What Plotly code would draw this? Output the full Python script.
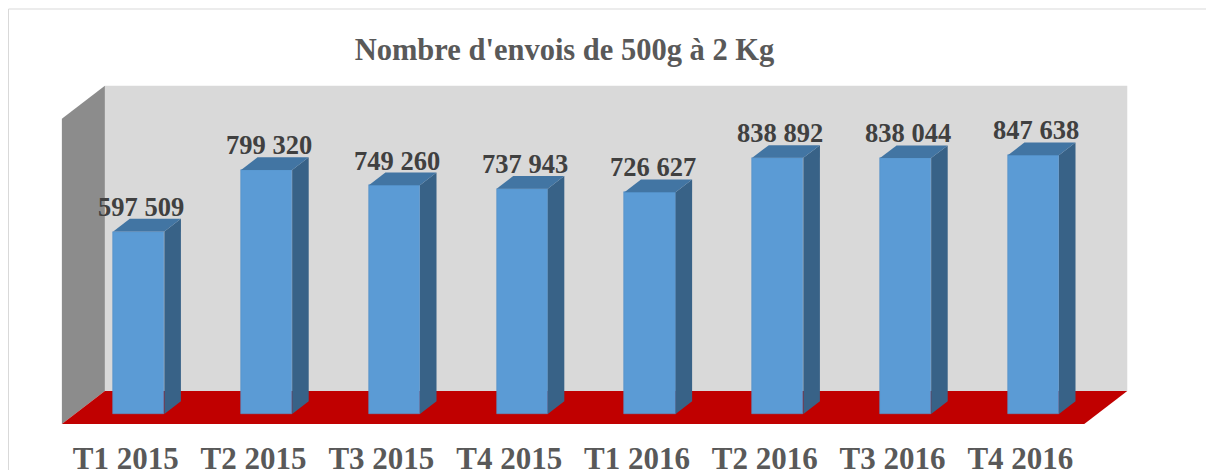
import plotly.graph_objects as go

# ---------------- data ----------------
categories = ["T1 2015", "T2 2015", "T3 2015", "T4 2015",
              "T1 2016", "T2 2016", "T3 2016", "T4 2016"]
values = [597509, 799320, 749260, 737943, 726627, 838892, 838044, 847638]
title_text = "Nombre d'envois de 500g à 2 Kg"
y_max = 1000000

# ---------------- geometry / style ----------------
BODY = 8                   # default page margin around the figure
W, H = 1214 - BODY, 470 - BODY
ML, MR, MT, MB = 32, 26, 52, 33
PX_PER_X = 127.8          # pixels per category
X0_PX = 138.8 - BODY      # pixel x of the first category (figure coords)
Y0_PX = 414 - BODY        # pixel y of value 0 (figure coords)
VAL_PER_PX = 3275         # value units per pixel
DEPTH_RATIO = 1.303       # horizontal px per vertical px of depth

plot_w = W - ML - MR
plot_h = H - MT - MB
x_range = [(ML - X0_PX) / PX_PER_X, (ML + plot_w - X0_PX) / PX_PER_X]
y_range = [(Y0_PX - (MT + plot_h)) * VAL_PER_PX, (Y0_PX - MT) * VAL_PER_PX]

FLOOR_FRONT = -10   # depth (px)
WALL_BACK = 23
BAR_DEPTH = 12.7
HALF_W = 0.2

C_FRONT = "#5b9bd5"
C_TOP = "#4275a3"
C_SIDE = "#386287"
C_BACKWALL = "#d9d9d9"
C_SIDEWALL = "#8c8c8c"
C_FLOOR = "#c00000"


def proj(x, y, d):
    return x + d * DEPTH_RATIO / PX_PER_X, y + d * VAL_PER_PX


def path(points):
    pts = [proj(*p) for p in points]
    return "M " + " L ".join(f"{px},{py}" for px, py in pts) + " Z"


n = len(categories)
xs = list(range(n))
XL, XR = -0.5, n - 0.5

fig = go.Figure()

shapes = []
# outer border
shapes.append(dict(type="rect", xref="paper", yref="paper",
                   x0=(0.5 - ML) / plot_w, x1=1.5,
                   y0=-0.5, y1=(MT + plot_h - 1) / plot_h,
                   line=dict(color="#d9d9d9", width=1), fillcolor="rgba(0,0,0,0)",
                   layer="below"))
# back wall
shapes.append(dict(type="path", xref="x", yref="y", layer="below",
                   path=path([(XL, 0, WALL_BACK), (XR, 0, WALL_BACK),
                              (XR, y_max, WALL_BACK), (XL, y_max, WALL_BACK)]),
                   fillcolor=C_BACKWALL, line=dict(width=0)))
# side wall
shapes.append(dict(type="path", xref="x", yref="y", layer="below",
                   path=path([(XL, 0, FLOOR_FRONT), (XL, 0, WALL_BACK),
                              (XL, y_max, WALL_BACK), (XL, y_max, FLOOR_FRONT)]),
                   fillcolor=C_SIDEWALL, line=dict(width=0)))
# floor
shapes.append(dict(type="path", xref="x", yref="y", layer="below",
                   path=path([(XL, 0, FLOOR_FRONT), (XR, 0, FLOOR_FRONT),
                              (XR, 0, WALL_BACK), (XL, 0, WALL_BACK)]),
                   fillcolor=C_FLOOR, line=dict(width=0)))

# front faces
fig.add_trace(go.Bar(x=xs, y=values, width=2 * HALF_W,
                     marker=dict(color=C_FRONT, line=dict(width=0.6, color="#5590c8")),
                     hoverinfo="skip", showlegend=False))

# side and top faces
for i, v in zip(xs, values):
    side = [(i + HALF_W, 0, 0), (i + HALF_W, 0, BAR_DEPTH),
            (i + HALF_W, v, BAR_DEPTH), (i + HALF_W, v, 0)]
    top = [(i - HALF_W, v, 0), (i + HALF_W, v, 0),
           (i + HALF_W, v, BAR_DEPTH), (i - HALF_W, v, BAR_DEPTH)]
    for face, col in ((side, C_SIDE), (top, C_TOP)):
        pts = [proj(*p) for p in face]
        fig.add_trace(go.Scatter(x=[p[0] for p in pts] + [pts[0][0]],
                                 y=[p[1] for p in pts] + [pts[0][1]],
                                 mode="lines", fill="toself", fillcolor=col,
                                 line=dict(width=0, color=col),
                                 hoverinfo="skip", showlegend=False))

# value labels
annotations = []
for i, v in zip(xs, values):
    ax, ay = proj(i + 0.02, v, BAR_DEPTH)
    annotations.append(dict(x=i + 0.02, y=ay, xref="x", yref="y",
                            text=f"{v:,}".replace(",", " "), showarrow=False,
                            yanchor="bottom", xanchor="center", yshift=-5,
                            font=dict(family="Liberation Serif", size=26.5,
                                      color="#404040", weight="bold")))

tick_offset = FLOOR_FRONT * DEPTH_RATIO / PX_PER_X

fig.update_layout(
    width=W, height=H,
    margin=dict(l=ML, r=MR, t=MT, b=MB, pad=0),
    paper_bgcolor="white", plot_bgcolor="white",
    title=dict(text=title_text, x=(564.5 - BODY) / W, xanchor="center", xref="container",
               y=1 - (49 - BODY) / H, yanchor="middle", yref="container",
               automargin=False,
               font=dict(family="Liberation Serif", size=30.5, color="#595959",
                         weight="bold")),
    xaxis=dict(range=x_range, showgrid=False, zeroline=False, showline=False,
               automargin=False,
               tickmode="array", tickvals=[i + tick_offset for i in xs],
               ticktext=categories, ticks="",
               tickfont=dict(family="Liberation Serif", size=31, color="#595959",
                             weight="bold")),
    yaxis=dict(range=y_range, showgrid=False, zeroline=False, showline=False,
               automargin=False, showticklabels=False, ticks=""),
    shapes=shapes, annotations=annotations,
    bargap=0, showlegend=False,
)

fig.write_html("out.html")
